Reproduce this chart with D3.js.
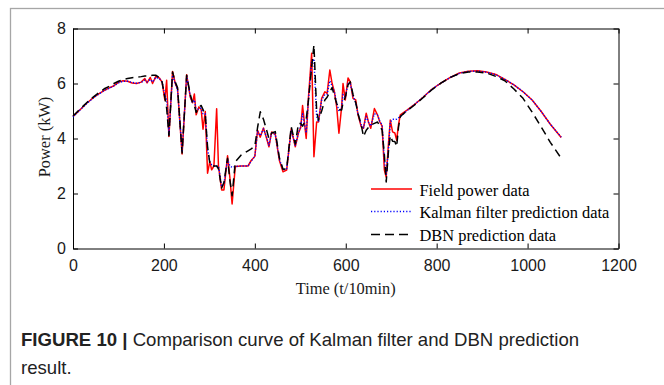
<!DOCTYPE html>
<html>
<head>
<meta charset="utf-8">
<script src="https://cdn.jsdelivr.net/npm/d3@7"></script>
<style>
  html, body { margin: 0; padding: 0; background: #fff; }
  svg { display: block; }
</style>
</head>
<body>
<svg id="chart" width="664" height="385"></svg>
<script>
// ---------------- DATA ----------------
const times = [
  0,10,20,30,40,50,60,70,80,90,
  100,110,120,130,140,150,158,163,170,175,
  182,190,196,202,206,211,219,225,230,240,
  250,258,263,267,271,277,282,286,291,296,
  301,305,310,316,320,327,332,340,345,350,
  357,370,385,392,400,406,412,419,426,431,
  437,445,454,462,470,480,489,496,501,505,
  513,518,525,530,536,540,547,554,559,565,
  570,575,580,585,591,594,599,605,610,616,
  622,627,634,639,645,650,655,663,670,675,
  680,685,689,694,698,703,708,712,716,
  720,734,750,770,790,810,830,850,870,890,910,930,950,970,990,1010,1030,1050,1074
];
const fieldPower = [
  4.80,4.96,5.12,5.28,5.42,5.55,5.66,5.76,5.84,5.92,
  6.04,6.10,6.08,6.02,6.00,6.05,6.18,6.02,6.22,6.00,
  6.25,6.20,6.05,5.40,6.12,4.07,6.44,6.00,5.80,3.44,
  6.32,5.50,5.30,5.62,4.86,5.15,5.05,4.34,4.98,2.74,
  3.16,2.86,3.00,5.08,3.00,2.13,2.13,3.37,2.60,1.62,
  2.98,3.00,3.00,3.20,3.35,4.30,4.05,4.38,4.00,3.70,
  4.24,4.15,3.20,2.79,2.85,4.35,3.70,4.20,4.40,5.20,
  4.00,5.50,7.10,3.34,4.60,4.60,5.46,5.70,5.64,6.49,
  6.00,5.70,5.16,4.19,5.16,6.00,5.40,6.20,6.06,5.46,
  5.40,4.86,4.43,4.37,4.92,4.60,4.37,5.09,4.85,4.60,
  4.45,2.85,2.60,3.82,4.67,4.24,4.20,3.94,4.50,
  4.86,5.02,5.22,5.50,5.80,6.02,6.22,6.38,6.45,6.46,6.42,6.33,6.15,5.95,5.70,5.40,4.98,4.52,4.04
];
const kalmanPred = [
  4.78,4.95,5.11,5.27,5.41,5.54,5.65,5.75,5.83,5.91,
  6.02,6.08,6.08,6.04,6.01,6.04,6.12,6.06,6.15,6.05,
  6.22,6.18,6.05,5.60,5.40,4.15,6.30,6.00,5.75,3.50,
  6.28,5.55,5.30,5.40,5.00,5.10,5.10,4.90,4.90,3.60,
  3.15,3.05,3.00,3.00,3.00,2.25,2.35,3.25,3.00,2.95,
  2.98,3.00,3.00,3.18,3.35,4.25,4.10,4.35,4.05,3.75,
  4.20,4.15,3.25,2.85,2.90,4.30,3.75,4.20,4.45,4.90,
  4.20,5.40,6.80,6.90,4.80,4.60,5.40,5.60,5.60,6.10,
  5.90,5.70,5.30,5.00,5.10,5.60,5.50,6.00,6.00,5.55,
  5.30,4.90,4.50,4.40,4.80,4.60,4.45,4.90,4.85,4.62,
  4.50,3.20,2.70,3.60,4.60,4.70,4.70,4.70,4.75,
  4.80,5.00,5.22,5.50,5.80,6.02,6.22,6.37,6.44,6.45,6.41,6.32,6.15,5.95,5.70,5.40,4.98,4.52,4.05
];
const dbnPred = [
  4.82,4.98,5.14,5.30,5.45,5.58,5.70,5.82,5.90,6.00,
  6.08,6.14,6.18,6.21,6.23,6.25,6.27,6.27,6.29,6.30,
  6.30,6.22,6.05,5.50,5.10,4.10,6.42,6.05,5.85,3.47,
  6.30,5.60,5.30,5.20,4.95,5.15,5.20,5.05,4.85,3.70,
  3.10,3.00,3.00,3.00,2.90,2.20,2.40,3.28,2.50,1.92,
  3.15,3.40,3.55,3.62,3.72,4.40,4.97,4.70,4.30,4.00,
  4.20,4.25,3.30,2.88,2.90,4.43,3.80,4.55,4.55,4.45,
  4.70,5.40,6.60,7.40,5.00,4.67,5.00,5.40,5.50,5.70,
  5.85,5.55,5.28,5.05,5.04,5.30,5.50,5.95,6.06,5.60,
  5.30,4.90,4.50,4.07,4.30,4.40,4.49,4.55,4.60,4.45,
  4.30,3.40,2.42,3.55,4.10,3.90,3.89,3.71,4.40,
  4.80,5.00,5.20,5.48,5.78,6.02,6.22,6.36,6.42,6.42,6.38,6.26,6.10,5.80,5.46,4.96,4.42,3.86,3.28
];
const xTicks = [0, 200, 400, 600, 800, 1000, 1200];
const yTicks = [0, 2, 4, 6, 8];
const seriesNames = ["Field power data", "Kalman filter prediction data", "DBN prediction data"];
const xTitle = "Time (t/10min)";
const yTitle = "Power (kW)";
const captionBold = "FIGURE 10 |";
const captionLine1 = "Comparison curve of Kalman filter and DBN prediction";
const captionLine2 = "result.";

// ---------------- CHART ----------------
const svg = d3.select("#chart");
const L = 73, R = 618.5, T = 28.5, B = 248.5;

// outer frame
svg.append("rect").attr("x", 10.5).attr("y", 8.5).attr("width", 660).attr("height", 390)
  .attr("fill", "none").attr("stroke", "#a6a6a6").attr("stroke-width", 1.3);

const x = d3.scaleLinear().domain([0, 1200]).range([L, R]);
const y = d3.scaleLinear().domain([0, 8]).range([B, T]);

const tickFont = "'Liberation Sans', Arial, sans-serif";
function styleAxis(g, showLabels) {
  g.select(".domain").attr("stroke", "#000").attr("stroke-width", 1);
  g.selectAll(".tick line").attr("stroke", "#000").attr("stroke-width", 1);
  g.selectAll(".tick text").attr("font-family", tickFont).attr("font-size", 16).attr("fill", "#1a1a1a");
  if (!showLabels) g.selectAll(".tick text").remove();
}

svg.append("g").attr("transform", `translate(0,${B})`)
  .call(d3.axisBottom(x).tickValues(xTicks).tickSizeInner(-5).tickSizeOuter(0).tickPadding(11).tickFormat(d3.format("d")))
  .call(g => styleAxis(g, true));
svg.append("g").attr("transform", `translate(0,${T})`)
  .call(d3.axisTop(x).tickValues(xTicks).tickSizeInner(-5).tickSizeOuter(0))
  .call(g => styleAxis(g, false));
svg.append("g").attr("transform", `translate(${L},0)`)
  .call(d3.axisLeft(y).tickValues(yTicks).tickSizeInner(-5).tickSizeOuter(0).tickPadding(7).tickFormat(d3.format("d")))
  .call(g => styleAxis(g, true));
svg.append("g").attr("transform", `translate(${R},0)`)
  .call(d3.axisRight(y).tickValues(yTicks).tickSizeInner(-5).tickSizeOuter(0))
  .call(g => styleAxis(g, false));

// lines
const mkLine = vals => d3.line().x((d, i) => x(times[i])).y((d, i) => y(vals[i]));
const styles = [
  { vals: fieldPower, color: "#ff0000", width: 1.5, dash: null },
  { vals: kalmanPred, color: "#0000ff", width: 1.4, dash: "1.2,1.8" },
  { vals: dbnPred, color: "#000000", width: 1.5, dash: "8,5" }
];
styles.forEach(s => {
  svg.append("path").datum(s.vals)
    .attr("d", mkLine(s.vals)(s.vals))
    .attr("fill", "none").attr("stroke", s.color).attr("stroke-width", s.width)
    .attr("stroke-dasharray", s.dash).attr("stroke-linejoin", "round");
});

// legend
const serif = "'Liberation Serif', 'Times New Roman', serif";
const legY = [189, 211.5, 234.5];
seriesNames.forEach((name, i) => {
  const s = styles[i];
  svg.append("line").attr("x1", 371).attr("x2", 412).attr("y1", legY[i]).attr("y2", legY[i])
    .attr("stroke", s.color).attr("stroke-width", s.width)
    .attr("stroke-dasharray", i === 1 ? "1.2,2" : (i === 2 ? "9,5" : null));
  svg.append("text").attr("x", 419.5).attr("y", legY[i] + 6.5)
    .attr("font-family", serif).attr("font-size", 16.4).attr("fill", "#000").text(name);
});

// axis titles
svg.append("text").attr("x", (L + R) / 2).attr("y", 294).attr("text-anchor", "middle")
  .attr("font-family", serif).attr("font-size", 16.4).attr("fill", "#1a1a1a").text(xTitle);
svg.append("text").attr("transform", "translate(50,137) rotate(-90)").attr("text-anchor", "middle")
  .attr("font-family", serif).attr("font-size", 16.4).attr("fill", "#1a1a1a").text(yTitle);

// caption
const cap = svg.append("text").attr("x", 21).attr("y", 346)
  .attr("font-family", tickFont).attr("font-size", 18.6).attr("fill", "#222");
cap.append("tspan").attr("font-weight", "bold").text(captionBold);
cap.append("tspan").text(" " + captionLine1);
svg.append("text").attr("x", 21).attr("y", 374)
  .attr("font-family", tickFont).attr("font-size", 18.6).attr("fill", "#222").text(captionLine2);
</script>
</body>
</html>
